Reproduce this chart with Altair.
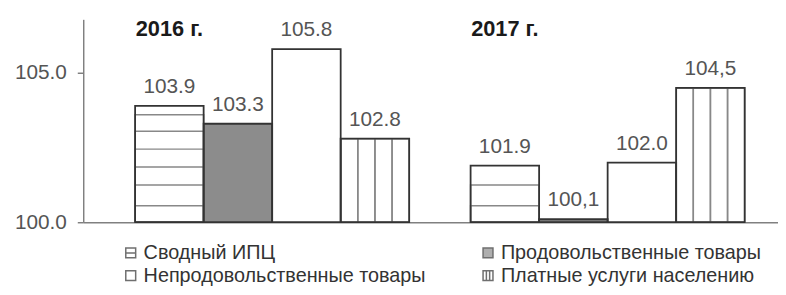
import altair as alt
import pandas as pd

SERIES = ["Сводный ИПЦ", "Продовольственные товары",
          "Непродовольственные товары", "Платные услуги населению"]
YEARS = ["2016 г.", "2017 г."]
VALUES_2016 = [103.9, 103.3, 105.8, 102.8]
VALUES_2017 = [101.9, 100.1, 102.0, 104.5]
LABELS_2016 = ["103.9", "103.3", "105.8", "102.8"]
LABELS_2017 = ["101.9", "100,1", "102.0", "104,5"]
Y_TICKS = [100, 105]

# styles
FILLS = ["#ffffff", "#8c8c8c", "#ffffff", "#ffffff"]
SHAPES = ["M-1,-1H1V1H-1Z M-1,0H1", "M-1,-1H1V1H-1Z", "M-1,-1H1V1H-1Z",
          "M-1,-1H1V1H-1Z M-0.33,-1V1 M0.33,-1V1"]
HATCH_LEVELS = [100.55, 101.25, 101.85, 102.45, 103.05, 103.6]
N_SUB = 4
FONT = "Liberation Sans"

rows = []
for yr, vals, labs in [(YEARS[0], VALUES_2016, LABELS_2016),
                       (YEARS[1], VALUES_2017, LABELS_2017)]:
    for s, v, l in zip(SERIES, vals, labs):
        rows.append(dict(year=yr, series=s, value=v, label=l))
df = pd.DataFrame(rows)

hatch_h = pd.DataFrame([
    dict(year=r.year, series=r.series, level=h)
    for r in df.itertuples() if r.series == SERIES[0]
    for h in HATCH_LEVELS if h < r.value - 0.15
])
slots = [f"{i}-{j}" for i in range(len(SERIES)) for j in range(N_SUB)]
hatch_v = pd.DataFrame([
    dict(year=r.year, slot=f"3-{j}", value=r.value)
    for r in df.itertuples() if r.series == SERIES[3]
    for j in range(N_SUB)
])
years_df = pd.DataFrame(dict(year=YEARS, series=SERIES[0]))

x_enc = alt.X("year:N",
              scale=alt.Scale(domain=YEARS, paddingInner=0.183,
                              paddingOuter=0.127, align=0.609),
              axis=alt.Axis(title=None, labels=False, ticks=False,
                            domainColor="#808080", domainWidth=1.5))
xo_enc = alt.XOffset("series:N",
                     scale=alt.Scale(type="band", domain=SERIES,
                                     paddingInner=0, paddingOuter=0))


def y_enc(field):
    return alt.Y(f"{field}:Q",
                 scale=alt.Scale(domain=[100, 106.8], nice=False, zero=False),
                 axis=alt.Axis(title=None, values=Y_TICKS, format=".1f", grid=False,
                               domainColor="#808080", domainWidth=1.5,
                               tickColor="#808080", tickWidth=1.5, tickSize=6,
                               labelFont=FONT, labelFontSize=21, labelColor="#555555",
                               labelPadding=11))


legend = alt.Legend(title=None, orient="none", legendX=38, legendY=226,
                    direction="horizontal", columns=2, columnPadding=52, rowPadding=3,
                    symbolSize=100, symbolStrokeWidth=1.5, symbolStrokeColor="#333333",
                    labelFont=FONT, labelFontSize=20, labelColor="#333333",
                    labelLimit=0, labelOffset=3, padding=0)
fill_enc = alt.Fill("series:N", scale=alt.Scale(domain=SERIES, range=FILLS), legend=legend)

bars = alt.Chart(df).mark_bar(strokeWidth=0).encode(
    x=x_enc, xOffset=xo_enc, y=y_enc("value"), y2=alt.datum(100), fill=fill_enc)

hh = alt.Chart(hatch_h).mark_bar(fillOpacity=0, stroke="#888888", strokeWidth=1.5).encode(
    x=x_enc, xOffset=xo_enc, y=y_enc("level"), y2=alt.datum(100))

hv = alt.Chart(hatch_v).mark_bar(fillOpacity=0, stroke="#888888", strokeWidth=1.5).encode(
    x=x_enc,
    xOffset=alt.XOffset("slot:N", scale=alt.Scale(type="band", domain=slots,
                                                  paddingInner=0, paddingOuter=0)),
    y=y_enc("value"), y2=alt.datum(100))

outline = alt.Chart(df).mark_bar(fillOpacity=0, stroke="#333333", strokeWidth=1.8).encode(
    x=x_enc, xOffset=xo_enc, y=y_enc("value"), y2=alt.datum(100))

labels = alt.Chart(df).mark_text(font=FONT, fontSize=21, color="#555555",
                                 baseline="alphabetic", dy=-13).encode(
    x=x_enc, xOffset=xo_enc, y=y_enc("value"), text="label:N")

year_txt = alt.Chart(years_df).mark_text(font=FONT, fontSize=22, fontWeight="bold",
                                         color="#1a1a1a", baseline="alphabetic").encode(
    x=x_enc, xOffset=xo_enc, y=alt.value(17), text="year:N")

legend_pts = alt.Chart(df).transform_filter("false").mark_point(
    filled=True, stroke="#333333", strokeWidth=1.5, size=100).encode(
    x=x_enc, xOffset=xo_enc, y=y_enc("value"),
    fill=fill_enc,
    shape=alt.Shape("series:N", scale=alt.Scale(domain=SERIES, range=SHAPES), legend=legend))

chart = alt.layer(bars, hh, hv, outline, labels, year_txt, legend_pts).resolve_scale(
    xOffset="independent"
).properties(
    width=702, height=205,
    autosize=alt.AutoSizeParams(type="none"),
    padding={"left": 76, "top": 10, "right": 0, "bottom": 64},
    background="white",
).configure_view(stroke=None)

chart.save("out.html", embed_options={"renderer": "svg", "actions": False})
